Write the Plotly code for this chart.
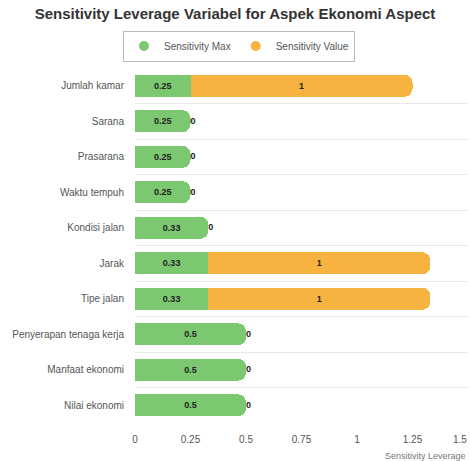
import plotly.graph_objects as go

categories = ["Jumlah kamar", "Sarana", "Prasarana", "Waktu tempuh", "Kondisi jalan",
              "Jarak", "Tipe jalan", "Penyerapan tenaga kerja", "Manfaat ekonomi", "Nilai ekonomi"]
sens_max = [0.25, 0.25, 0.25, 0.25, 0.33, 0.33, 0.33, 0.5, 0.5, 0.5]
sens_value = [1, 0, 0, 0, 0, 1, 1, 0, 0, 0]
x_ticks = [0, 0.25, 0.5, 0.75, 1, 1.25, 1.5]

GREEN = "#7cc870"
ORANGE = "#f6b33f"
FONT = "Liberation Sans, Arial, sans-serif"
LABEL_FONT = dict(size=9, color="#222", family=FONT, weight="bold")
TICK_FONT = dict(size=10, color="#555", family=FONT)

fig = go.Figure()
fig.add_trace(go.Bar(
    y=categories, x=sens_max, orientation="h", name="Sensitivity Max",
    marker=dict(color=GREEN, line=dict(width=0)),
    text=[str(v) for v in sens_max], textposition="inside", insidetextanchor="middle",
    textangle=0, textfont=LABEL_FONT, showlegend=False,
))
fig.add_trace(go.Bar(
    y=categories, x=sens_value, orientation="h", name="Sensitivity Value",
    marker=dict(color=ORANGE, line=dict(width=0)),
    text=[str(v) if v else "" for v in sens_value], textposition="inside",
    insidetextanchor="middle", textangle=0, textfont=LABEL_FONT, showlegend=False,
))
# labels for zero-valued "Sensitivity Value" bars, placed at the end of the stack
zero_idx = [i for i, v in enumerate(sens_value) if v == 0]
fig.add_trace(go.Scatter(
    x=[sens_max[i] + sens_value[i] for i in zero_idx],
    y=[categories[i] for i in zero_idx],
    text=[str(sens_value[i]) for i in zero_idx],
    mode="text", textposition="middle right", textfont=LABEL_FONT,
    cliponaxis=False, showlegend=False, hoverinfo="skip",
))
# legend entries with circular markers
fig.add_trace(go.Scatter(x=[None], y=[None], mode="markers", name="Sensitivity Max",
                         marker=dict(color=GREEN, size=10, symbol="circle")))
fig.add_trace(go.Scatter(x=[None], y=[None], mode="markers", name="Sensitivity Value",
                         marker=dict(color=ORANGE, size=10, symbol="circle")))

# last tick label drawn right-aligned so it stays inside the page
tick_text = [f"{t:g}" for t in x_ticks]
last_label = tick_text[-1]
tick_text[-1] = ""

fig.update_layout(
    width=470, height=461,
    margin=dict(l=135, r=2, t=68, b=38),
    paper_bgcolor="white", plot_bgcolor="white",
    barmode="stack", bargap=0.38, barcornerradius=8,
    font=dict(family=FONT, size=10, color="#555"),
    title=dict(text="<b>Sensitivity Leverage Variabel for Aspek Ekonomi Aspect</b>",
               x=0.5, xanchor="center", xref="container",
               y=1 - 14 / 461, yanchor="middle", yref="container",
               font=dict(size=15, color="#333", family=FONT)),
    legend=dict(orientation="h", xref="container", yref="container",
                x=239 / 470, xanchor="center", y=1 - 46 / 461, yanchor="middle",
                bordercolor="#bbb", borderwidth=1, bgcolor="white",
                traceorder="normal", itemwidth=30,
                font=dict(size=10, color="#555")),
    xaxis=dict(range=[0, 1.5], tickvals=x_ticks, ticktext=tick_text,
               showgrid=False, zeroline=False, showline=False, automargin=False,
               ticklabelstandoff=9, tickfont=TICK_FONT, ticks=""),
    yaxis=dict(autorange="reversed", type="category", tickson="boundaries",
               showgrid=True, gridcolor="#e8e8e8", gridwidth=1, ticks="",
               ticklen=0, showline=False, zeroline=False, ticklabelstandoff=10,
               automargin=False, tickfont=TICK_FONT),
    annotations=[
        dict(text=last_label, xref="x", yref="paper", x=x_ticks[-1], y=0,
             xanchor="right", yanchor="top", yshift=-9, xshift=1,
             showarrow=False, font=TICK_FONT),
        dict(text="Sensitivity Leverage", xref="paper", yref="paper",
             x=1, y=0, xanchor="right", yanchor="top", yshift=-26,
             showarrow=False, font=dict(size=9, color="#777", family=FONT)),
    ],
)

fig.write_html("out.html")
